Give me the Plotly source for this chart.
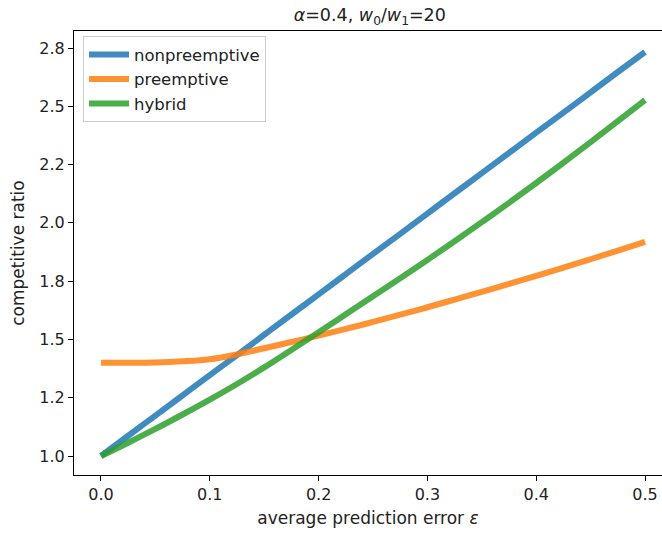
import plotly.graph_objects as go

# average prediction error epsilon
eps = [0.0, 0.025, 0.05, 0.075, 0.1, 0.125, 0.15, 0.175, 0.2, 0.225, 0.25,
       0.275, 0.3, 0.325, 0.35, 0.375, 0.4, 0.425, 0.45, 0.475, 0.5]

nonpreemptive = [1.000, 1.087, 1.173, 1.260, 1.347, 1.433, 1.520, 1.607, 1.693, 1.780, 1.867,
                 1.953, 2.040, 2.127, 2.213, 2.300, 2.387, 2.473, 2.560, 2.647, 2.733]
preemptive = [1.400, 1.400, 1.401, 1.406, 1.415, 1.436, 1.462, 1.489, 1.516, 1.545, 1.575,
              1.606, 1.638, 1.671, 1.704, 1.738, 1.773, 1.808, 1.844, 1.881, 1.918]
hybrid = [1.000, 1.057, 1.116, 1.178, 1.242, 1.309, 1.380, 1.455, 1.531, 1.608, 1.685,
          1.762, 1.841, 1.921, 2.003, 2.086, 2.171, 2.258, 2.346, 2.436, 2.527]

y_tickvals = [1.0, 1.25, 1.5, 1.75, 2.0, 2.25, 2.5, 2.75]
y_ticktext = ["1.0", "1.2", "1.5", "1.8", "2.0", "2.2", "2.5", "2.8"]
x_tickvals = [0.0, 0.1, 0.2, 0.3, 0.4, 0.5]
x_ticktext = ["0.0", "0.1", "0.2", "0.3", "0.4", "0.5"]

FONT = "DejaVu Sans"
TEXT = "#222222"

series = [
    ("nonpreemptive", nonpreemptive, "rgba(31,119,180,0.85)"),
    ("preemptive", preemptive, "rgba(255,127,14,0.85)"),
    ("hybrid", hybrid, "rgba(44,160,44,0.85)"),
]

fig = go.Figure()
for name, vals, color in series:
    fig.add_trace(go.Scatter(
        x=eps, y=vals, name=name, mode="lines",
        line=dict(color=color, width=6, shape="spline"),
    ))

fig.update_layout(
    width=662, height=533,
    margin=dict(l=74, r=0, t=31, b=58),
    paper_bgcolor="white", plot_bgcolor="white",
    font=dict(family=FONT, size=16, color=TEXT),
    title=dict(
        text="<i>α</i>=0.4, <i>w</i><sub>0</sub>/<i>w</i><sub>1</sub>=20",
        x=0.503, xref="paper", xanchor="center",
        y=0.972, yref="container", yanchor="middle",
        font=dict(family=FONT, size=17.5, color=TEXT),
    ),
    legend=dict(
        x=0.0153, y=0.988, xanchor="left", yanchor="top",
        bgcolor="rgba(255,255,255,0.9)", bordercolor="#cccccc", borderwidth=1,
        font=dict(family=FONT, size=16.5, color=TEXT),
        itemwidth=40, tracegroupgap=0,
    ),
    showlegend=True,
)

fig.update_xaxes(
    range=[-0.0248, 0.5156], tickvals=x_tickvals, ticktext=x_ticktext,
    showgrid=False, zeroline=False,
    showline=True, linecolor="black", linewidth=1, mirror=True,
    ticks="outside", ticklen=5, tickcolor="black",
    tickfont=dict(family=FONT, size=16, color=TEXT),
    title=dict(text="average prediction error <i>ε</i>", standoff=8,
               font=dict(family=FONT, size=17, color=TEXT)),
)
fig.update_yaxes(
    range=[0.9185, 2.823], tickvals=y_tickvals, ticktext=y_ticktext,
    showgrid=False, zeroline=False,
    showline=True, linecolor="black", linewidth=1, mirror=False,
    ticks="outside", ticklen=5, tickcolor="black",
    tickfont=dict(family=FONT, size=16, color=TEXT),
    title=dict(text="competitive ratio", standoff=10,
               font=dict(family=FONT, size=17, color=TEXT)),
)

fig.write_html("out.html")
